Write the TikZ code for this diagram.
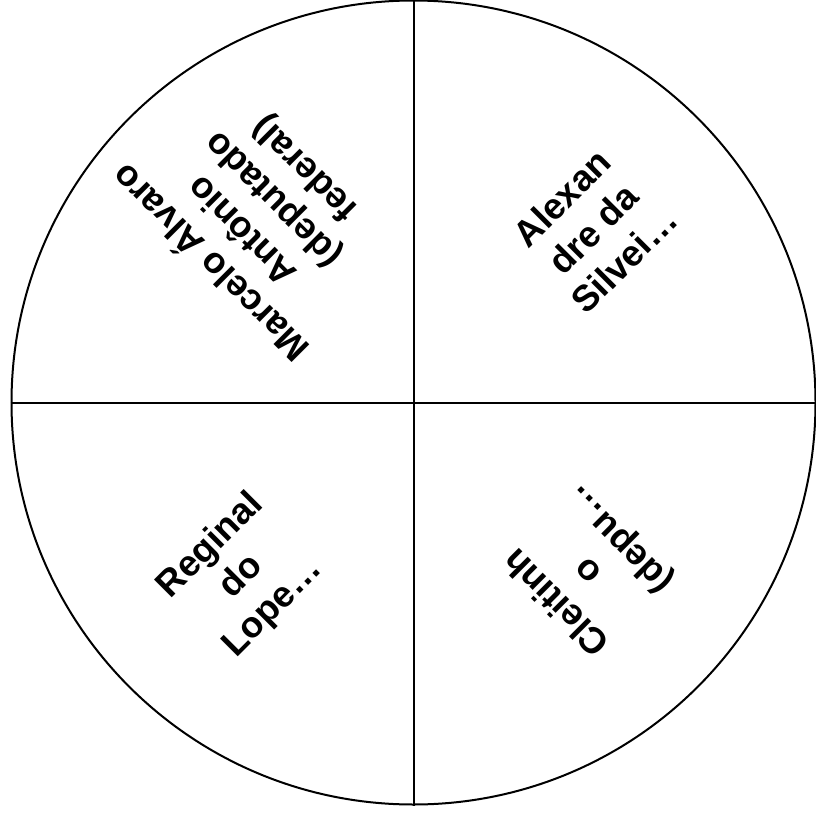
\documentclass[tikz,border=0pt]{standalone}
\usepackage{fontspec}
\setmainfont{Liberation Sans}
\begin{document}
\begin{tikzpicture}[x=1pt,y=1pt,
  lbl/.style={font=\bfseries\fontsize{36.5}{44}\selectfont, align=center, inner sep=0pt},
  ring/.style={draw=black, line width=2pt, circle, minimum size=804pt, inner sep=0pt}]
\useasboundingbox (0,0) rectangle (815,-816);
\node[ring] (C) at (413.5,-402.5) {};
\draw[line width=2pt] (C.north) -- (C.south);
\draw[line width=2pt] (C.west) -- (C.east);
\node[lbl, rotate=135] (tl) at (257,-216) {Marcelo Álvaro\\Antônio\\(deputado\\federal)};
\node[lbl, rotate=45] (tr) at (593,-229) {Alexan\\dre da\\Silvei…};
\node[lbl, rotate=45] (bl) at (242,-577) {Reginal\\do\\Lope…};
\node[lbl, rotate=135] (br) at (589,-570) {Cleitinh\\o\\(depu…};
\end{tikzpicture}
\end{document}
